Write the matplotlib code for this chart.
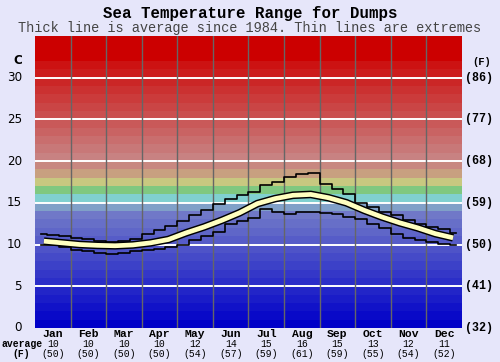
import numpy as np
import matplotlib
matplotlib.use('Agg')
import matplotlib.pyplot as plt

# data
months = ['Jan', 'Feb', 'Mar', 'Apr', 'May', 'Jun', 'Jul', 'Aug', 'Sep', 'Oct', 'Nov', 'Dec']
avg_c_label = [10, 10, 10, 10, 12, 14, 15, 16, 15, 13, 12, 11]
avg_f_label = [50, 50, 50, 50, 54, 57, 59, 61, 59, 55, 54, 52]
c_ticks = [0, 5, 10, 15, 20, 25, 30]
f_ticks = ['(32)', '(41)', '(50)', '(59)', '(68)', '(77)', '(86)']

# half-month averages
avg_temp = [10.4, 10.2, 10.0, 9.9, 9.85, 9.95, 10.2, 10.6, 11.4, 12.1, 12.9, 13.8,
            14.9, 15.5, 15.9, 16.0, 15.6, 15.0, 14.1, 13.3, 12.6, 12.0, 11.3, 10.8]
# thirds of months extremes
max_temp = [11.2, 11.1, 11.0, 10.8, 10.6, 10.4, 10.3, 10.4, 10.6, 11.2, 11.7, 12.2,
            12.8, 13.5, 14.1, 14.8, 15.4, 15.9, 16.3, 17.1, 17.5, 18.1, 18.4, 18.6,
            17.3, 16.6, 16.0, 15.0, 14.5, 13.9, 13.5, 12.9, 12.5, 12.1, 11.8, 11.4]
min_temp = [10.0, 9.9, 9.7, 9.4, 9.2, 9.0, 8.9, 9.0, 9.2, 9.3, 9.5, 9.7,
            10.0, 10.5, 11.0, 11.5, 12.4, 12.8, 13.2, 14.2, 13.9, 13.7, 13.9, 13.9,
            13.8, 13.6, 13.3, 13.0, 12.5, 12.0, 11.2, 10.8, 10.5, 10.3, 10.1, 9.95]

bg = '#E6E6FA'
fig = plt.figure(figsize=(5, 3.62), dpi=100, facecolor=bg)
ax = fig.add_axes([0.07, 0.094, 0.854, 0.807])
ax.set_xlim(0, 12)
ax.set_ylim(0, 35)

# coloured temperature bands, one per degree
blue0 = np.array([0, 0, 200])
blue1 = np.array([112, 120, 200])
red0 = np.array([200, 130, 130])
red1 = np.array([204, 18, 18])
band_cols = {}
for t in range(14):
    c = blue0 + (blue1 - blue0) * t / 13.0
    band_cols[t] = c / 255
band_cols[14] = np.array([128, 160, 200]) / 255
band_cols[15] = np.array([128, 208, 208]) / 255
band_cols[16] = np.array([128, 200, 128]) / 255
band_cols[17] = np.array([200, 200, 128]) / 255
band_cols[18] = np.array([200, 160, 128]) / 255
band_cols[19] = np.array([200, 136, 128]) / 255
for t in range(20, 32):
    c = red0 + (red1 - red0) * (t - 20) / 11.0
    band_cols[t] = c / 255
for t in range(32):
    ax.axhspan(t, t + 1, color=band_cols[t], lw=0, zorder=0)
ax.axhspan(32, 35, color='#CC0000', lw=0, zorder=0)

for y in c_ticks[1:]:
    ax.axhline(y, color='white', lw=1.4, zorder=1)
for m in range(1, 12):
    ax.axvline(m, color='#666666', lw=1, zorder=1)

x_avg = (np.arange(24) + 0.5) / 2.0
x_ext = (np.arange(36) + 0.5) / 3.0
ax.plot(x_ext, max_temp, color='black', lw=1.2, drawstyle='steps-mid', zorder=3)
ax.plot(x_ext, min_temp, color='black', lw=1.2, drawstyle='steps-mid', zorder=3)
ax.plot(x_avg, avg_temp, color='black', lw=5.5, solid_capstyle='butt', zorder=4)
ax.plot(x_avg, avg_temp, color='#FFFFC0', lw=3.4, solid_capstyle='butt', zorder=5)

ax.set_xticks([])
ax.set_yticks([])
for s in ax.spines.values():
    s.set_visible(False)

# titles
fig.text(0.5, 0.964, 'Sea Temperature Range for Dumps', ha='center', va='center',
         family='Liberation Mono', weight='bold', fontsize=11.3)
fig.text(0.5, 0.922, 'Thick line is average since 1984. Thin lines are extremes',
         ha='center', va='center', family='Liberation Mono', fontsize=9.8, color='#444444')

# left celsius labels
for t in c_ticks:
    ax.text(-0.37, t, str(t), ha='right', va='center', fontsize=8.6,
            family='DejaVu Sans', clip_on=False)
ax.text(-0.49, 32.0, 'C', ha='center', va='center', fontsize=8.6, weight='bold',
        family='DejaVu Sans', clip_on=False)

# right fahrenheit labels
for t, lab in zip(c_ticks, f_ticks):
    ax.text(12.08, t, lab, ha='left', va='center', fontsize=8.4, weight='bold',
            family='Liberation Mono', clip_on=False)
ax.text(12.54, 31.9, '(F)', ha='center', va='center', fontsize=7.6, weight='bold',
        family='Liberation Mono', clip_on=False)

# month labels
for i, m in enumerate(months):
    xc = i + 0.5
    ax.text(xc, -0.68, m, ha='center', va='center', fontsize=8.2, weight='bold',
            family='Liberation Mono', clip_on=False)
    ax.text(xc, -1.92, str(avg_c_label[i]), ha='center', va='center', fontsize=7.0,
            family='Liberation Mono', clip_on=False)
    ax.text(xc, -3.08, '(%d)' % avg_f_label[i], ha='center', va='center', fontsize=7.0,
            family='Liberation Mono', clip_on=False)
ax.text(-0.35, -1.92, 'average', ha='center', va='center', fontsize=7.0, weight='bold',
        family='Liberation Mono', clip_on=False)
ax.text(-0.4, -3.08, '(F)', ha='center', va='center', fontsize=7.0, weight='bold',
        family='Liberation Mono', clip_on=False)

fig.savefig('out.png', dpi=100, facecolor=bg)
